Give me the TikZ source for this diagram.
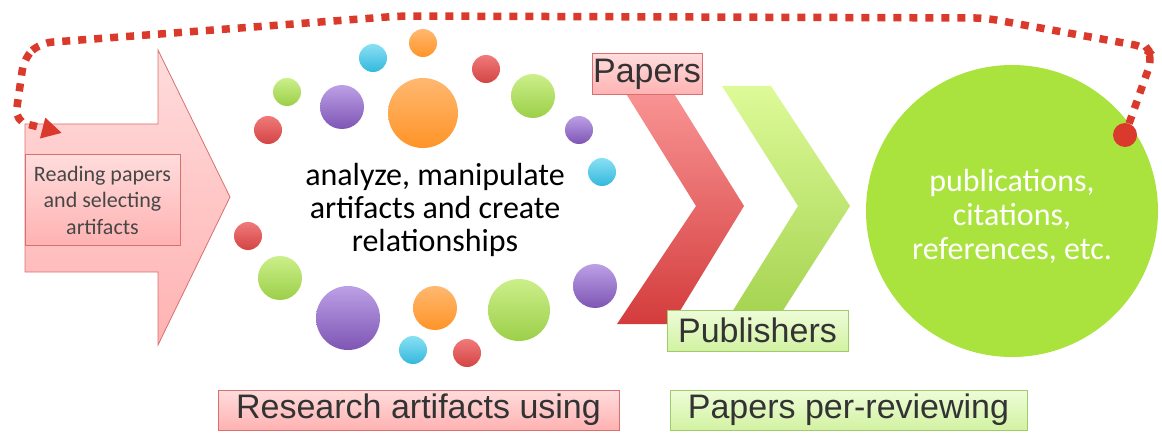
\documentclass[tikz,border=0pt]{standalone}
\usepackage{fontspec}
\setmainfont{Carlito}
\newfontfamily\arialf{Liberation Sans}
\usetikzlibrary{arrows.meta,shapes.geometric}
\definecolor{dotred}{HTML}{D93A2B}
\definecolor{pinkL}{HTML}{FFDCDC}
\definecolor{pinkD}{HTML}{FFB2B2}
\definecolor{pinkBorder}{HTML}{D87070}
\definecolor{chevRL}{HTML}{F99494}
\definecolor{chevRD}{HTML}{D43C3C}
\definecolor{chevGL}{HTML}{DDFA98}
\definecolor{chevGD}{HTML}{A6D452}
\definecolor{greenL}{HTML}{EEFCD8}
\definecolor{greenD}{HTML}{D2F2A2}
\definecolor{greenBorder}{HTML}{9FCB6A}
\definecolor{bigGreen}{HTML}{ABE33E}
\definecolor{txt}{HTML}{333333}
\definecolor{bRedL}{HTML}{F07A7A}\definecolor{bRedD}{HTML}{D44444}
\definecolor{bGreenL}{HTML}{CBEF8A}\definecolor{bGreenD}{HTML}{9CCF48}
\definecolor{bPurL}{HTML}{BCA0E6}\definecolor{bPurD}{HTML}{7E55B4}
\definecolor{bOrL}{HTML}{FFB870}\definecolor{bOrD}{HTML}{FF9428}
\definecolor{bCyL}{HTML}{88E0F4}\definecolor{bCyD}{HTML}{34B8DC}
\tikzset{
  pinkbox/.style={draw=pinkBorder, line width=1pt, top color=pinkL, bottom color=pinkD, inner sep=0pt, text=txt},
  greenbox/.style={draw=greenBorder, line width=1pt, top color=greenL, bottom color=greenD, inner sep=0pt, text=txt},
  bub/.style={circle, inner sep=0pt, minimum size=#1},
  bred/.style={top color=bRedL, bottom color=bRedD},
  bgreen/.style={top color=bGreenL, bottom color=bGreenD},
  bpur/.style={top color=bPurL, bottom color=bPurD},
  bor/.style={top color=bOrL, bottom color=bOrD},
  bcy/.style={top color=bCyL, bottom color=bCyD},
  dotline/.style={draw=dotred, line width=7.5pt, dash pattern=on 8pt off 8pt, rounded corners=12pt},
  arialtxt/.style={font=\arialf\fontsize{34}{38}\selectfont},
}
\begin{document}
\begin{tikzpicture}[x=1pt,y=-1pt]
\useasboundingbox (0,0) rectangle (1162,433);

% big pink arrow
\path[draw=pinkBorder, line width=0.8pt, top color=pinkL, bottom color=pinkD]
  (25,124) -- (158,124) -- (158,50) -- (230,197) -- (158,345) -- (158,272) -- (25,272) -- cycle;
\node[pinkbox, minimum width=155pt, minimum height=90pt, align=center,
      font=\fontsize{22}{26.5}\selectfont, text=txt!90] (read) at (102.5,200)
  {Reading papers\\and selecting\\artifacts};

% bubbles
\node[bub=28pt, bcy] (c1) at (373,58) {};
\node[bub=28pt, bor] (c2) at (423,43) {};
\node[bub=28pt, bred] (c3) at (486,69) {};
\node[bub=28pt, bgreen] (c4) at (287,92) {};
\node[bub=44pt, bpur] (c5) at (342,107) {};
\node[bub=70pt, bor] (c6) at (423,113) {};
\node[bub=44pt, bgreen] (c7) at (533,96) {};
\node[bub=28pt, bred] (c8) at (268,130) {};
\node[bub=28pt, bpur] (c9) at (579,130) {};
\node[bub=28pt, bcy] (c10) at (602,172) {};
\node[bub=28pt, bred] (c11) at (248,236) {};
\node[bub=44pt, bgreen] (c12) at (280,278) {};
\node[bub=44pt, bpur] (c13) at (595,286) {};
\node[bub=64pt, bpur] (c14) at (348,318) {};
\node[bub=44pt, bor] (c15) at (435,308) {};
\node[bub=62pt, bgreen] (c16) at (519,310) {};
\node[bub=28pt, bcy] (c17) at (413,350) {};
\node[bub=28pt, bred] (c18) at (467,353) {};

\node[align=center, font=\fontsize{32}{33}\selectfont, text=black] (center) at (435,210)
  {analyze, manipulate\\artifacts and create\\relationships};

% chevrons
\path[top color=chevRL, bottom color=chevRD]
  (625,92) -- (673,92) -- (744,206) -- (672,324) -- (617,324) -- (696,206) -- cycle;
\path[top color=chevGL, bottom color=chevGD]
  (722,86) -- (771,86) -- (850,206) -- (782,312) -- (732,312) -- (798,206) -- cycle;

\node[pinkbox, minimum width=110pt, minimum height=41pt, arialtxt] (papers) at (647,74.5) {Papers};
\node[greenbox, minimum width=181pt, minimum height=41pt, arialtxt] (pub) at (757.5,330.5) {Publishers};

% bottom labels
\node[pinkbox, minimum width=401pt, minimum height=40pt, arialtxt] (res) at (418.5,410) {Research artifacts using};
\node[greenbox, minimum width=357pt, minimum height=40pt, arialtxt] (peer) at (848.5,410) {Papers per-reviewing};

% big green circle
\node[circle, fill=bigGreen, minimum size=292pt, inner sep=0pt] (big) at (1012,211) {};
\node[align=center, font=\fontsize{32}{34}\selectfont, text=white] (bigtxt) at (1012,216)
  {publications,\\citations,\\references, etc.};

% dotted feedback line
\node[circle, fill=dotred, minimum size=24pt, inner sep=0pt] (dot) at (1125,135) {};
\coordinate (tip) at (62,133);
\draw[dotline, -{Triangle[length=20pt,width=20pt]}]
  (dot) -- (1153,56) -- (1146,47) -- (985,18) -- (400,16) -- (40,43) -- (24,58) -- (15,121) -- (tip);
\end{tikzpicture}
\end{document}
